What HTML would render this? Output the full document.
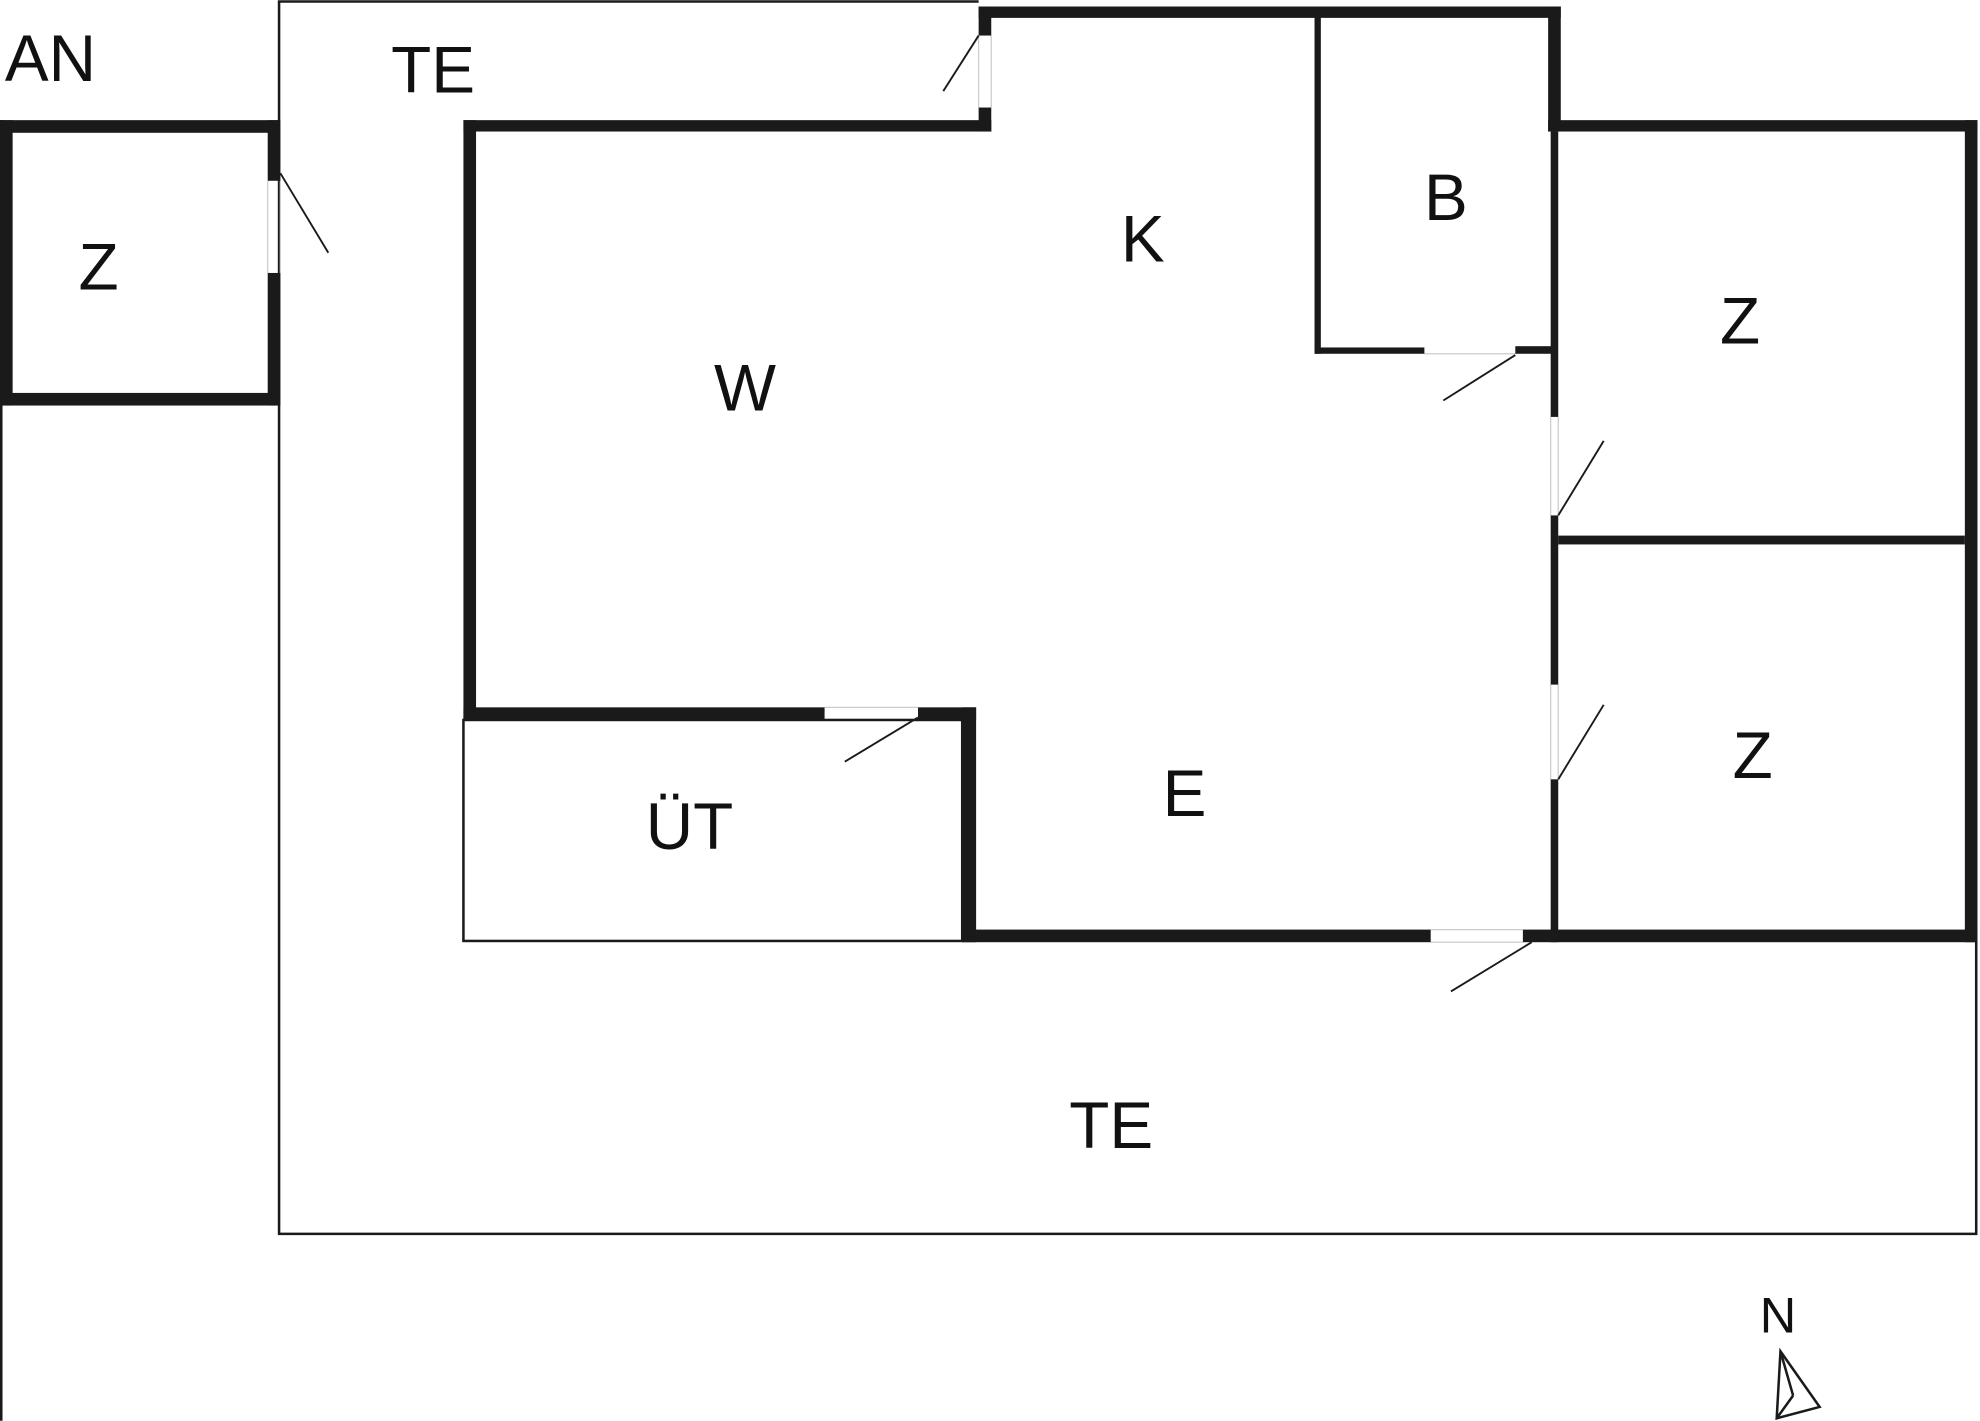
<!DOCTYPE html>
<html><head><meta charset="utf-8"><style>
html,body{margin:0;padding:0;background:#fff;}
svg{display:block;}
text{font-family:"Liberation Sans",sans-serif;fill:#111;}
</style></head><body>
<svg width="1980" height="1421" viewBox="0 0 1568 1125" xmlns="http://www.w3.org/2000/svg">
<rect width="1568" height="1125" fill="#fff"/>
<g fill="none" stroke="#1a1a1a" stroke-width="2">
  <line x1="1" y1="95" x2="1" y2="1125"/>
  <polyline points="775,1 221,1 221,977 1565,977 1565,745"/>
  <rect x="367" y="570" width="395" height="175"/>
  <polygon points="1410,1070 1407,1123 1441,1114"/>
  <line x1="1410" y1="1070" x2="1420" y2="1105"/>
  <line x1="1407" y1="1123" x2="1420" y2="1105"/>
</g>
<g stroke="#ccc" stroke-width="1">
  <line x1="212" y1="143" x2="212" y2="216"/>
  <line x1="222" y1="143" x2="222" y2="216"/>
  <line x1="775" y1="28" x2="775" y2="85"/>
  <line x1="785" y1="28" x2="785" y2="85"/>
  <line x1="1128" y1="280" x2="1200" y2="280"/>
  <line x1="1228" y1="330" x2="1228" y2="408"/>
  <line x1="1234" y1="330" x2="1234" y2="408"/>
  <line x1="1228" y1="542" x2="1228" y2="617"/>
  <line x1="1234" y1="542" x2="1234" y2="617"/>
  <line x1="1133" y1="736" x2="1206" y2="736"/>
  <line x1="1133" y1="746" x2="1206" y2="746"/>
  <line x1="653" y1="560" x2="727" y2="560"/>
</g>
<g fill="#1a1a1a">
  <rect x="0" y="95" width="221" height="10"/>
  <rect x="0" y="311" width="221" height="10"/>
  <rect x="0" y="95" width="10" height="226"/>
  <rect x="212" y="95" width="10" height="48"/>
  <rect x="212" y="216" width="10" height="105"/>
  <rect x="775" y="5" width="461" height="9"/>
  <rect x="775" y="5" width="10" height="23"/>
  <rect x="775" y="85" width="10" height="19"/>
  <rect x="367" y="95" width="418" height="9"/>
  <rect x="367" y="95" width="10" height="475"/>
  <rect x="1041" y="10" width="5" height="270"/>
  <rect x="1041" y="275" width="87" height="5"/>
  <rect x="1200" y="274" width="32" height="6"/>
  <rect x="1226" y="5" width="10" height="99"/>
  <rect x="1228" y="104" width="6" height="226"/>
  <rect x="1228" y="408" width="6" height="134"/>
  <rect x="1228" y="617" width="6" height="129"/>
  <rect x="1226" y="95" width="340" height="9"/>
  <rect x="1556" y="95" width="10" height="651"/>
  <rect x="1234" y="424" width="322" height="7"/>
  <rect x="762" y="736" width="371" height="10"/>
  <rect x="1206" y="736" width="360" height="10"/>
  <rect x="367" y="560" width="286" height="10"/>
  <rect x="727" y="560" width="46" height="10"/>
  <rect x="762" y="560" width="11" height="186"/>
</g>
<g stroke="#1a1a1a" stroke-width="1.5">
  <line x1="222" y1="137" x2="260" y2="200"/>
  <line x1="775" y1="28" x2="747" y2="72"/>
  <line x1="1200" y1="281" x2="1143" y2="317"/>
  <line x1="1234" y1="408" x2="1270" y2="349"/>
  <line x1="1234" y1="617" x2="1270" y2="558"/>
  <line x1="1213" y1="746" x2="1149" y2="785"/>
  <line x1="727" y1="568" x2="669" y2="603"/>
</g>
<g font-size="52" text-anchor="middle">
  <text x="40" y="64">AN</text>
  <text x="343" y="73">TE</text>
  <text x="78" y="229">Z</text>
  <text x="590" y="325">W</text>
  <text x="905" y="207">K</text>
  <text x="1145" y="174">B</text>
  <text x="1378" y="272">Z</text>
  <text x="1388" y="616">Z</text>
  <text x="546" y="672">ÜT</text>
  <text x="938" y="646">E</text>
  <text x="880" y="909">TE</text>
  <text x="1408" y="1055" font-size="40">N</text>
</g>
</svg>
</body></html>
